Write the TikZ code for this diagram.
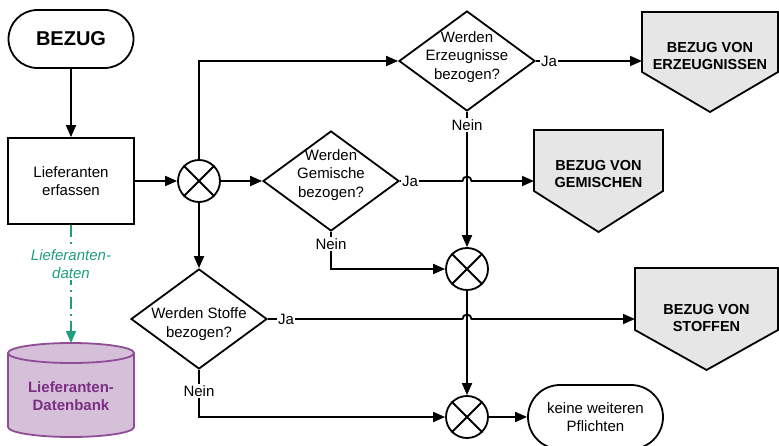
\documentclass[tikz,border=0pt]{standalone}
\usepackage{fontspec}
\setmainfont{Liberation Sans}
\usetikzlibrary{arrows.meta,shapes.geometric}
\definecolor{offgray}{HTML}{E6E6E6}
\definecolor{dbfill}{HTML}{D5BFD9}
\definecolor{dbline}{HTML}{8E4D94}
\definecolor{dbtext}{HTML}{7B2F83}
\definecolor{datateal}{HTML}{1F9E80}
\begin{document}
\begin{tikzpicture}[x=1pt,y=-1pt,
  every node/.style={font=\fontsize{15}{18.5}\selectfont, align=center, inner sep=0pt},
  line/.style={line width=1.8pt},
  flow/.style={line, -{Triangle[length=12pt,width=10pt]}},
  terminal/.style={draw, line width=1.8pt},
  stepbox/.style={draw, line width=1.8pt, rectangle},
  decision/.style={draw, line width=1.8pt, diamond, minimum width=136pt, minimum height=100pt},
  junction/.style={draw, line width=1.8pt, circle, minimum size=42pt},
  offpage/.style={draw, line width=1.8pt, fill=offgray},
  offtext/.style={font=\fontsize{14.5}{17.5}\selectfont\bfseries},
  lbl/.style={fill=white, inner sep=1.5pt},
  datalink/.style={line, draw=datateal, dash pattern=on 12pt off 5pt on 2pt off 5pt,
    -{Triangle[length=12pt,width=10pt,fill=datateal]}}]
\useasboundingbox (0,0) rectangle (779,446);

% process nodes
\node[terminal, minimum width=125pt, minimum height=58pt, rounded corners=29pt,
      font=\fontsize{20}{24}\selectfont\bfseries] (start) at (71,39) {BEZUG};
\node[stepbox, minimum width=126pt, minimum height=86pt] (lief) at (71,181) {Lieferanten\\erfassen};

\node[junction] (c1) at (199,181) {};
\node[junction] (c2) at (467,269) {};
\node[junction] (c3) at (467,417) {};
\foreach \c in {c1,c2,c3}{
  \draw[line] (\c.north west) -- (\c.south east) (\c.north east) -- (\c.south west);
}

\node[decision] (dE) at (467,61) {};
\node at (467,57) {Werden\\Erzeugnisse\\bezogen?};
\node[decision] (dG) at (331,181) {};
\node at (331,175) {Werden\\Gemische\\bezogen?};
\node[decision] (dS) at (199,319) {};
\node at (199,324) {Werden Stoffe\\bezogen?};

\node[terminal, minimum width=135pt, minimum height=64pt, rounded corners=32pt] (end) at (595.5,417) {keine weiteren\\Pflichten};

% off-page connectors
\path[offpage] (642,12) -- (778,12) -- (778,72) -- (710,112) -- (642,72) -- cycle;
\coordinate (oE) at (642,61);
\node[offtext] (tE) at (710,56) {BEZUG VON\\ERZEUGNISSEN};

\path[offpage] (534,130) -- (663,130) -- (663,191) -- (598.5,232) -- (534,191) -- cycle;
\coordinate (oG) at (534,181);
\node[offtext] (tG) at (598.5,174) {BEZUG VON\\GEMISCHEN};

\path[offpage] (635,268) -- (778,268) -- (778,330) -- (706.5,370) -- (635,330) -- cycle;
\coordinate (oS) at (635,319);
\node[offtext] (tS) at (706.5,318) {BEZUG VON\\STOFFEN};

% supplier database
\fill[dbfill] (8,353) rectangle (134,427);
\fill[dbfill] (71,427) ellipse [x radius=63, y radius=10];
\fill[dbfill] (71,353) ellipse [x radius=63, y radius=10];
\draw[line, dbline] (71,353) ellipse [x radius=63, y radius=10];
\draw[line, dbline] (8,353) -- (8,427) (134,353) -- (134,427);
\begin{scope}
  \clip (0,427) rectangle (150,446);
  \draw[line, dbline] (71,427) ellipse [x radius=63, y radius=10];
\end{scope}
\coordinate (dbtop) at (71,343);
\node[font=\fontsize{15}{18}\selectfont\bfseries, text=dbtext] (db) at (71,396) {Lieferanten-\\Datenbank};

% connectors
\draw[flow] (start) -- (lief);
\draw[flow] (lief) -- (c1);
\draw[flow] (c1.north) |- (dE.west);
\draw[flow] (c1) -- (dG);
\draw[flow] (c1) -- (dS);

\draw[flow] (dE.east) -- (oE);
\node[lbl] at (549,61) {Ja};

\coordinate (hopG) at (462.5,181);
\draw[flow] (dG.east) -- (hopG) arc [start angle=180, end angle=0, radius=4.5pt] -- (oG);
\node[lbl] at (410,181) {Ja};

\draw[flow] (dE.south) -- (c2.north);
\node[lbl] at (467,125) {Nein};

\draw[flow] (dG.south) |- (c2.west);
\node[lbl] at (331,244) {Nein};

\draw[flow] (c2) -- (c3);

\coordinate (hopS) at (462.5,319);
\draw[flow] (dS.east) -- (hopS) arc [start angle=180, end angle=0, radius=4.5pt] -- (oS);
\node[lbl] at (286,319) {Ja};

\draw[flow] (dS.south) |- (c3.west);
\node[lbl] at (199,391) {Nein};

\draw[flow] (c3) -- (end);

\draw[datalink] (lief.south) -- (dbtop);
\node[lbl, text=datateal, font=\fontsize{15}{18}\selectfont\itshape] at (71,264) {Lieferanten-\\daten};
\end{tikzpicture}
\end{document}
